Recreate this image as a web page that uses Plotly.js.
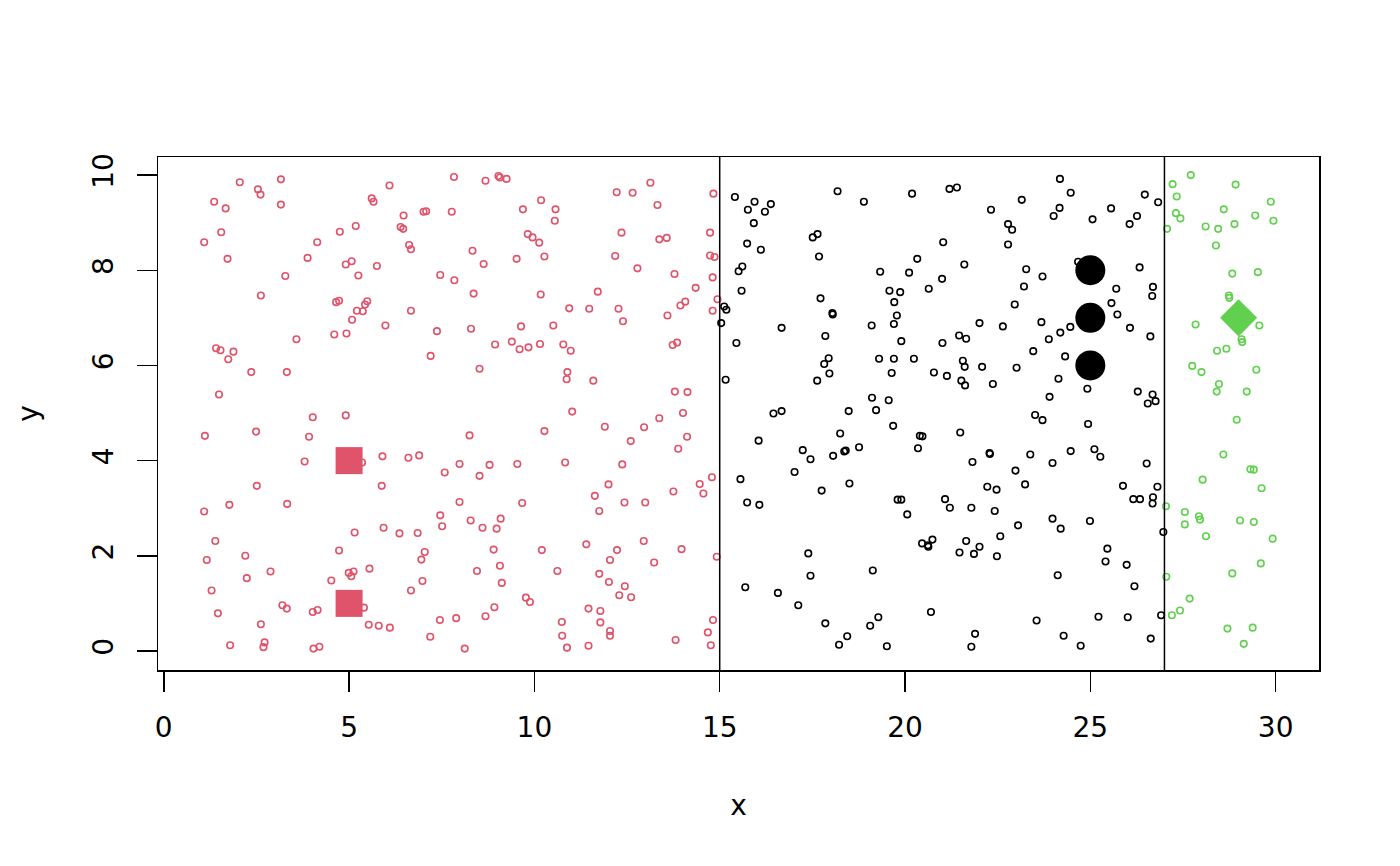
<!DOCTYPE html>
<html>
<head>
<meta charset="utf-8">
<script src="https://cdn.plot.ly/plotly-3.0.1.min.js"></script>
<style>html,body{margin:0;padding:0;background:#fff;}#chart{width:1400px;height:866px;}</style>
</head>
<body>
<div id="chart"></div>
<script>
// ---- data ----
const redX = [2.05,2.54,2.61,3.16,1.36,1.67,3.16,6.09,7.83,5.61,5.66,1.55,1.09,1.72,4.14,4.75,5.18,3.88,4.91,5.07,5.75,5.25,6.47,6.39,6.46,6.62,6.67,7.01,7.08,7.77,7.46,7.84,3.28,2.62,4.65,4.73,5.21,5.37,5.43,5.49,5.08,6.67,5.98,7.37,4.60,4.93,3.58,1.41,1.53,1.88,1.74,7.20,2.36,3.32,1.49,4.02,4.91,
1.11,2.49,3.92,3.80,5.35,5.90,6.60,6.89,7.58,7.98,2.51,5.88,1.77,3.33,1.09,7.98,7.46,7.51,5.15,5.93,6.36,6.85,1.39,4.73,7.04,6.95,1.16,2.20,2.88,2.24,4.99,5.12,5.06,5.55,4.52,6.98,6.67,1.29,3.20,3.32,4.02,4.15,5.40,1.46,2.62,5.53,5.80,6.10,7.45,7.89,7.19,1.79,2.72,2.69,4.04,4.20,
8.68,9.03,9.07,9.25,10.18,9.69,10.57,10.55,12.22,12.65,13.13,14.83,13.32,8.33,8.63,9.82,9.95,10.13,9.52,10.27,12.35,13.37,13.57,14.74,12.18,14.74,14.86,12.78,13.78,14.81,8.36,10.17,11.71,14.35,14.07,13.94,14.94,14.81,10.94,11.48,12.27,12.39,13.59,8.29,9.64,10.51,8.94,9.39,9.60,9.84,10.15,10.78,10.98,13.73,13.85,8.52,10.89,10.87,11.59,13.79,14.13,11.02,13.37,14.01,
8.25,10.27,11.90,12.96,12.60,14.12,13.88,8.79,9.54,10.83,12.37,8.52,12.00,11.63,11.75,12.43,12.99,13.75,14.46,14.79,14.56,9.67,8.28,8.60,8.98,9.09,8.90,10.20,11.40,12.95,13.97,12.23,12.04,13.23,14.92,8.45,9.07,9.12,10.62,11.75,12.01,12.44,12.29,12.61,9.77,9.88,8.68,8.92,11.46,11.78,10.74,11.78,10.75,12.04,12.04,8.12,10.88,11.46,13.81,14.82,14.68,14.76];
const redY = [9.85,9.70,9.59,9.91,9.44,9.30,9.38,9.78,9.96,9.51,9.44,8.80,8.59,8.24,8.59,8.81,8.93,8.26,8.12,8.19,8.09,7.89,9.15,8.91,8.87,8.53,8.44,9.23,9.24,9.23,7.90,7.79,7.88,7.47,7.33,7.36,7.15,7.14,7.28,7.35,6.96,7.15,6.84,6.72,6.65,6.67,6.55,6.36,6.32,6.29,6.13,6.20,5.86,5.86,5.39,4.91,4.95,
4.52,4.61,4.50,3.98,3.96,4.09,4.06,4.11,3.75,3.93,3.47,3.47,3.07,3.09,2.93,3.13,2.85,2.62,2.49,2.59,2.47,2.48,2.31,2.11,2.08,1.92,1.91,2.00,1.67,1.53,1.64,1.67,1.57,1.73,1.48,1.47,1.27,1.27,0.96,0.89,0.82,0.86,0.91,0.79,0.56,0.55,0.53,0.49,0.65,0.69,0.30,0.12,0.18,0.08,0.05,0.09,
9.88,9.98,9.95,9.92,9.47,9.28,9.28,9.04,9.64,9.63,9.84,9.61,9.37,8.41,8.13,8.76,8.69,8.58,8.24,8.29,8.79,8.65,8.68,8.79,8.30,8.31,8.28,8.04,7.92,7.85,7.51,7.49,7.55,7.63,7.34,7.26,7.39,7.15,7.20,7.19,7.19,6.93,7.05,6.77,6.82,6.84,6.44,6.50,6.34,6.38,6.45,6.44,6.31,6.43,6.48,5.93,5.86,5.71,5.68,5.45,5.44,5.03,4.89,5.00,
4.53,4.62,4.71,4.70,4.41,4.50,4.25,3.91,3.93,3.96,3.92,3.68,3.50,3.26,2.94,3.12,3.12,3.35,3.51,3.65,3.31,3.11,2.74,2.59,2.57,2.78,2.13,2.12,2.24,2.31,2.14,2.12,1.91,1.86,1.98,1.68,1.79,1.43,1.68,1.62,1.45,1.36,1.17,1.13,1.12,1.03,0.73,0.92,0.89,0.84,0.61,0.60,0.32,0.42,0.32,0.05,0.07,0.11,0.23,0.65,0.39,0.12];

const blackX = [15.41,15.76,15.74,15.51,15.61,15.59,15.12,15.18,15.04,15.45,15.16,15.56,15.74,15.69,
15.94,16.22,16.38,15.92,16.11,18.18,18.89,20.19,21.20,21.40,22.32,23.15,22.78,22.89,22.78,17.51,17.64,17.68,21.03,20.33,21.60,19.33,20.11,21.00,20.64,19.58,19.87,19.71,23.27,23.71,23.21,22.96,17.72,18.04,18.05,19.78,19.70,19.10,16.67,17.85,19.90,21.01,21.46,21.65,22.01,22.64,23.68,23.46,17.94,17.82,17.96,17.63,19.30,19.70,20.24,19.64,20.78,21.13,21.56,21.61,21.52,21.62,22.08,22.37,23.01,19.11,19.56,19.22,18.48,16.45,16.67,23.51,23.71,
16.05,18.25,19.68,17.24,17.45,18.06,18.36,18.40,18.76,17.02,17.75,18.50,16.07,20.40,20.47,20.35,21.49,21.82,22.28,22.29,23.38,22.98,23.24,22.22,22.47,19.80,19.90,20.06,21.08,21.21,21.79,22.42,23.05,22.57,21.65,22.01,21.47,21.86,22.48,20.46,20.62,20.63,20.74,17.39,17.45,19.13,16.57,17.12,17.85,19.06,19.28,18.44,18.22,19.51,20.70,21.89,21.79,23.55,
24.18,24.47,24.17,24.01,25.06,25.56,26.26,26.06,26.47,26.83,24.67,26.33,25.70,26.69,26.67,25.57,25.73,24.46,24.19,23.88,26.07,26.62,24.32,24.14,24.92,23.90,26.28,26.68,26.76,26.55,
24.94,24.47,25.11,25.27,23.98,26.52,25.88,26.81,26.16,26.34,26.69,26.68,23.98,24.20,24.99,26.97,25.46,25.41,25.98,24.12,26.19,25.22,26.01,26.91,24.28,24.74,26.63];
const blackY = [9.54,9.27,8.56,7.98,8.08,7.57,7.24,7.17,6.89,6.47,5.70,3.61,3.12,1.34,
9.44,9.23,9.39,8.99,8.43,9.66,9.44,9.61,9.71,9.74,9.27,9.48,8.97,8.85,8.54,8.69,8.76,8.29,8.59,8.24,8.12,7.97,7.95,7.82,7.61,7.57,7.54,7.33,8.02,7.87,7.66,7.28,7.41,7.10,7.07,7.05,6.87,6.84,6.79,6.62,6.51,6.47,6.63,6.56,6.89,6.82,6.91,6.30,6.15,6.03,5.83,5.68,6.14,6.14,6.14,5.84,5.85,5.78,6.10,5.97,5.68,5.58,5.97,5.61,5.95,5.32,5.27,5.06,5.04,4.99,5.04,4.96,4.85,
4.42,4.57,4.73,4.22,4.03,4.10,4.19,4.21,4.28,3.76,3.37,3.52,3.07,4.52,4.51,4.26,4.59,3.97,4.16,4.14,4.13,3.79,3.50,3.45,3.39,3.18,3.18,2.87,3.19,3.01,3.01,2.94,2.64,2.41,2.31,2.19,2.07,2.04,1.99,2.26,2.22,2.19,2.34,2.05,1.58,1.69,1.22,0.96,0.58,0.53,0.71,0.31,0.13,0.10,0.82,0.36,0.09,0.64,
9.92,9.63,9.31,9.14,9.07,9.30,9.14,8.97,9.59,9.43,8.18,8.06,7.61,7.65,7.46,7.31,7.07,6.81,6.69,6.55,6.79,6.61,6.19,5.72,5.51,5.34,5.45,5.39,5.25,5.20,
4.77,4.20,4.24,4.08,3.95,3.94,3.47,3.45,3.19,3.19,3.23,3.10,2.78,2.57,2.73,2.50,2.15,1.88,1.81,1.59,1.36,0.72,0.71,0.75,0.32,0.11,0.26];

const greenX = [27.71,27.22,28.92,27.33,29.87,28.60,27.31,27.43,29.45,29.94,28.89,28.11,28.45,27.07,28.39,28.83,29.52,28.74,28.75,27.84,29.56,29.08,29.10,28.67,28.42,27.75,28.00,29.48,28.47,28.41,29.22,28.95,
28.59,29.32,29.41,28.03,29.62,27.04,27.55,27.55,27.93,27.96,29.04,29.41,28.12,29.92,29.60,28.83,27.05,27.68,27.42,27.20,28.70,29.38,29.14];
const greenY = [10.00,9.81,9.80,9.55,9.44,9.28,9.20,9.09,9.15,9.04,8.97,8.92,8.87,8.87,8.52,7.93,7.96,7.47,7.42,6.86,6.84,6.55,6.49,6.35,6.31,5.99,5.86,5.91,5.61,5.45,5.45,4.86,
4.13,3.82,3.81,3.60,3.42,3.04,2.92,2.66,2.83,2.76,2.74,2.71,2.41,2.36,1.84,1.63,1.56,1.10,0.85,0.75,0.47,0.49,0.15];

const centerRedX = [5, 5];
const centerRedY = [4, 1];
const centerBlackX = [25, 25, 25];
const centerBlackY = [8, 7, 6];
const centerGreenX = [29];
const centerGreenY = [7];

const dividers = [15, 27];
const xTicks = [0, 5, 10, 15, 20, 25, 30];
const yTicks = [0, 2, 4, 6, 8, 10];

// ---- styles ----
const RED = '#DF536B', GREEN = '#61D04F', BLACK = '#000000';
const FONT = 'DejaVu Sans';

function small(x, y, c) {
  return {x: x, y: y, type: 'scatter', mode: 'markers', hoverinfo: 'skip',
    marker: {symbol: 'circle-open', size: 6.5, color: c, line: {width: 1.6, color: c}}};
}
function big(x, y, c, sym, s) {
  return {x: x, y: y, type: 'scatter', mode: 'markers', hoverinfo: 'skip',
    marker: {symbol: sym, size: s, color: c, line: {width: 0}}};
}

const traces = [
  small(redX, redY, RED),
  small(blackX, blackY, BLACK),
  small(greenX, greenY, GREEN),
  big(centerRedX, centerRedY, RED, 'square', 27),
  big(centerBlackX, centerBlackY, BLACK, 'circle', 30),
  big(centerGreenX, centerGreenY, GREEN, 'diamond', 28.5)
];

const axisCommon = {
  showgrid: false, zeroline: false, showline: true, mirror: true,
  linecolor: BLACK, linewidth: 1.5, ticks: 'outside', ticklen: 20, tickwidth: 1.5,
  tickcolor: BLACK, tickfont: {family: FONT, size: 28, color: BLACK},
  ticklabelstandoff: 12,
  automargin: false, fixedrange: true
};

const layout = {
  width: 1400, height: 866,
  paper_bgcolor: '#ffffff', plot_bgcolor: '#ffffff',
  showlegend: false,
  margin: {l: 158, r: 81, t: 157, b: 196, pad: 0},
  xaxis: Object.assign({}, axisCommon, {
    range: [-0.156, 31.17], tickvals: xTicks, ticktext: xTicks.map(String),
    title: {text: 'x', font: {family: FONT, size: 28, color: BLACK}, standoff: 52}
  }),
  yaxis: Object.assign({}, axisCommon, {
    range: [-0.40, 10.38], tickvals: yTicks, ticktext: yTicks.map(String), tickangle: -90,
    title: {text: 'y', font: {family: FONT, size: 28, color: BLACK}, standoff: 40}
  }),
  shapes: dividers.map(v => ({type: 'line', xref: 'x', yref: 'paper', x0: v, x1: v, y0: 0, y1: 1,
    line: {color: BLACK, width: 1.5}, layer: 'above'}))
};

Plotly.newPlot('chart', traces, layout, {staticPlot: true, displayModeBar: false});
</script>
</body>
</html>
